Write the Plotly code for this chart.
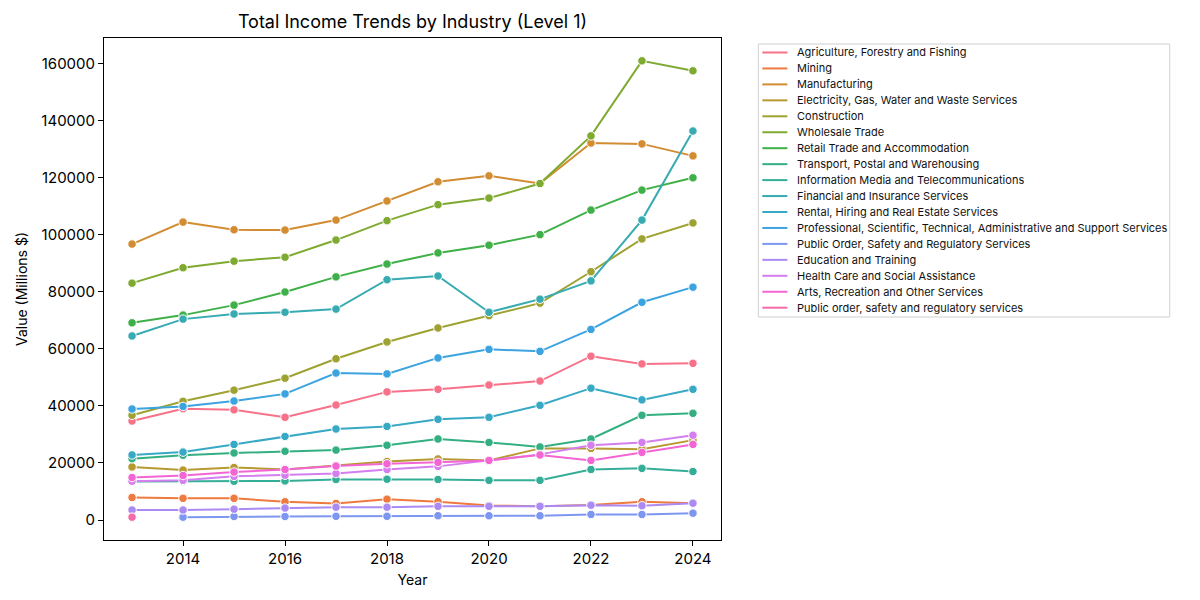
import plotly.graph_objects as go

years = list(range(2013, 2025))

industries = [
    "Agriculture, Forestry and Fishing",
    "Mining",
    "Manufacturing",
    "Electricity, Gas, Water and Waste Services",
    "Construction",
    "Wholesale Trade",
    "Retail Trade and Accommodation",
    "Transport, Postal and Warehousing",
    "Information Media and Telecommunications",
    "Financial and Insurance Services",
    "Rental, Hiring and Real Estate Services",
    "Professional, Scientific, Technical, Administrative and Support Services",
    "Public Order, Safety and Regulatory Services",
    "Education and Training",
    "Health Care and Social Assistance",
    "Arts, Recreation and Other Services",
    "Public order, safety and regulatory services",
]

agriculture = [34700, 39000, 38600, 36000, 40300, 44900, 45800, 47300, 48700, 57400, 54700, 54900]
mining = [7900, 7600, 7600, 6400, 5800, 7300, 6400, 5100, 4800, 5300, 6400, 5900]
manufacturing = [96700, 104400, 101700, 101600, 105100, 111800, 118500, 120600, 117900, 132100, 131800, 127600]
electricity = [18600, 17500, 18400, 17700, 19100, 20500, 21400, 20900, 25100, 25100, 24800, 28000]
construction = [36700, 41600, 45500, 49700, 56500, 62400, 67300, 71600, 76000, 87000, 98500, 104100]
wholesale = [83000, 88400, 90700, 92100, 98100, 104900, 110500, 112800, 117900, 134600, 160900, 157400]
retail = [69100, 71800, 75300, 79900, 85200, 89700, 93600, 96300, 100000, 108600, 115600, 119900]
transport = [21500, 22700, 23500, 24100, 24500, 26200, 28400, 27200, 25600, 28400, 36700, 37400]
info_media = [13500, 13600, 13600, 13700, 14200, 14300, 14200, 13900, 13900, 17700, 18100, 17000]
financial = [64500, 70400, 72200, 72800, 73900, 84200, 85500, 72800, 77400, 83800, 105100, 136300]
rental = [22800, 23800, 26500, 29300, 31900, 32800, 35300, 36000, 40200, 46200, 42100, 45800]
professional = [38900, 39800, 41700, 44200, 51500, 51200, 56800, 59800, 59100, 66800, 76300, 81600]
public_order = [None, 1000, 1250, 1250, 1300, 1300, 1500, 1500, 1500, 1950, 1950, 2400]
education = [3500, 3500, 3800, 4200, 4500, 4500, 4800, 4800, 4800, 5200, 5000, 5900]
health = [13600, 13900, 15300, 15700, 16300, 17700, 18800, 20900, 23000, 26200, 27200, 29700]
arts = [14900, 15600, 16800, 17700, 18900, 19700, 20200, 20900, 22800, 20900, 23700, 26500]
public_order_lower = [1000, None, None, None, None, None, None, None, None, None, None, None]

series = [agriculture, mining, manufacturing, electricity, construction, wholesale,
          retail, transport, info_media, financial, rental, professional,
          public_order, education, health, arts, public_order_lower]

# husl-like palette, 17 hues
colors = ["#f77189", "#ee7a3f", "#d28c32", "#b69a31", "#9da231", "#7faa31",
          "#3fb047", "#34af82", "#35ae98", "#37abb1", "#38a9c5", "#3ba4e0",
          "#7d96f0", "#ac8af4", "#d47ef0", "#f365d3", "#f56ba8"]

fig = go.Figure()

for name, vals, col in zip(industries, series, colors):
    fig.add_trace(go.Scatter(
        x=years, y=vals, mode="lines+markers", name=name,
        line=dict(color=col, width=2),
        marker=dict(size=8.5, color=col, line=dict(color="white", width=1)),
        showlegend=False,
    ))

# the page body has an 8px margin, so pixel targets are shifted by it
OFF = 8
L, R, T, B = 104.3 - OFF, 720.7 - OFF, 38 - OFF, 540 - OFF
W, H = R - L, B - T


def px(xp):
    return (xp - OFF - L) / W


def py(yp):
    return (B - (yp - OFF)) / H


# hand-built legend so the row spacing matches the compact reference
shapes = [dict(type="rect", xref="paper", yref="paper",
               x0=px(758), x1=px(1169), y0=py(317), y1=py(44),
               line=dict(color="#d0d0d0", width=1), fillcolor="white", layer="above")]
annotations = []
for i, (name, col) in enumerate(zip(industries, colors)):
    yy = 52.5 + i * 15.95
    shapes.append(dict(type="line", xref="paper", yref="paper",
                       x0=px(762), x1=px(787), y0=py(yy), y1=py(yy),
                       line=dict(color=col, width=2), layer="above"))
    annotations.append(dict(text=name, xref="paper", yref="paper",
                            x=px(795), y=py(yy), xanchor="left", yanchor="middle",
                            showarrow=False, font=dict(size=11, color="#111111")))

font = "Inter, Lato, sans-serif"

fig.update_layout(
    width=1200, height=600,
    margin=dict(l=L, r=1200 - R, t=T, b=600 - B),
    paper_bgcolor="white", plot_bgcolor="white",
    font=dict(family=font, size=15, color="black"),
    showlegend=False,
    shapes=shapes, annotations=annotations,
    title=dict(text="Total Income Trends by Industry (Level 1)",
               x=(L + R) / 2 / 1200, xanchor="center",
               y=1 - (22 - OFF) / 600, yanchor="middle",
               font=dict(size=18, color="black")),
    xaxis=dict(title=dict(text="Year", font=dict(size=14), standoff=8),
               automargin=False,
               range=[2012.45, 2024.55], tickvals=[2014, 2016, 2018, 2020, 2022, 2024],
               ticks="outside", ticklen=5, tickcolor="black",
               showline=True, linecolor="black", linewidth=1, mirror=True,
               showgrid=False, zeroline=False),
    yaxis=dict(title=dict(text="Value (Millions $)", font=dict(size=14), standoff=10),
               automargin=False,
               range=[-7000, 168900], tickvals=list(range(0, 160001, 20000)),
               tickformat="d",
               ticks="outside", ticklen=5, tickcolor="black",
               showline=True, linecolor="black", linewidth=1, mirror=True,
               showgrid=False, zeroline=False),
)

fig.write_html("out.html")
